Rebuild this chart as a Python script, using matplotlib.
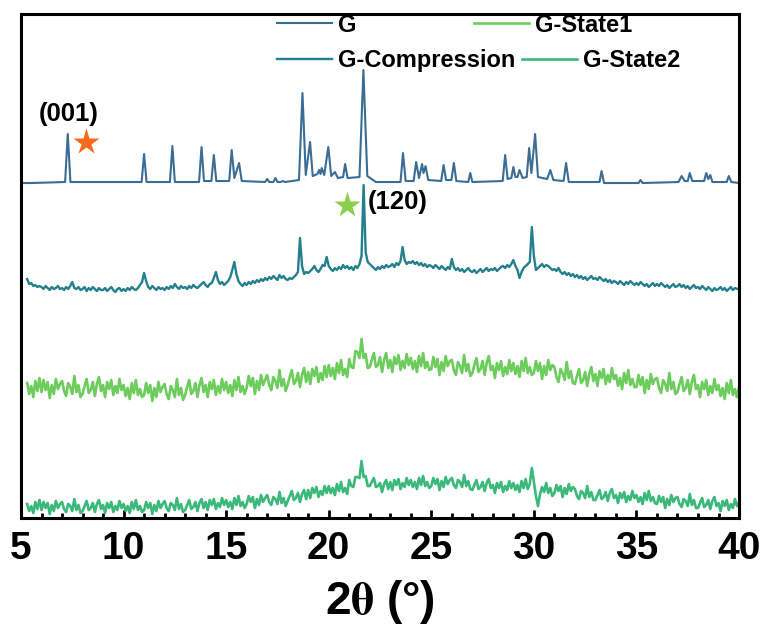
import numpy as np
import matplotlib
matplotlib.use("Agg")
import matplotlib.pyplot as plt
from matplotlib.ticker import MultipleLocator

plt.rcParams['font.family'] = ['Liberation Sans', 'DejaVu Sans']
plt.rcParams['font.weight'] = 'bold'
plt.rcParams['mathtext.fontset'] = 'stix'

# G: smooth pattern, vertices (2theta, intensity)
g_x = [5.0, 5.5, 7.15, 7.28, 7.41, 10.88, 11.0, 11.12, 12.26, 12.38, 12.5,
       13.68, 13.8, 13.92, 14.28, 14.4, 14.52, 15.15, 15.27, 15.4, 15.63, 15.76,
       16.9, 17.0, 17.1, 17.3, 17.4, 17.5, 17.66, 17.76, 17.86, 18.55, 18.72,
       18.88, 19.09, 19.22, 19.45, 19.53, 19.6, 19.66, 19.78, 19.98, 20.12, 20.3,
       20.45, 20.7, 20.8, 20.92, 21.5, 21.69, 21.88, 22.3, 23.5, 23.62, 23.75,
       24.14, 24.26, 24.4, 24.55, 24.62, 24.72, 24.85, 25.48, 25.6, 25.72, 25.98,
       26.1, 26.22, 26.8, 26.9, 27.0, 28.48, 28.6, 28.72, 28.9, 29.0, 29.1, 29.2,
       29.3, 29.45, 29.65, 29.77, 29.88, 30.06, 30.2, 30.65, 30.8, 30.95, 31.45,
       31.57, 31.7, 33.2, 33.3, 33.42, 35.1, 35.2, 35.3, 37.05, 37.2, 37.35, 37.5,
       37.6, 37.72, 38.3, 38.4, 38.5, 38.6, 38.7, 39.4, 39.5, 39.62, 40.0]
g_y = [335, 335, 336, 384, 336, 336, 364, 336, 336, 372, 336,
       336, 371, 337, 337, 363, 337, 337, 368, 340, 355, 337,
       336, 339, 336, 336, 340, 336, 336, 337, 336, 338, 425,
       343, 376, 342, 344, 348, 344, 350, 343, 371, 342, 346,
       340, 341, 354, 340, 341, 448, 342, 336, 336, 365, 337,
       337, 356, 340, 354, 345, 352, 338, 337, 353, 338, 338,
       355, 337, 336, 345, 336, 337, 363, 339, 340, 351, 341, 341,
       348, 340, 341, 370, 345, 384, 341, 339, 348, 338, 337,
       355, 336, 336, 347, 335, 335, 338, 335, 336, 342, 337, 337,
       345, 337, 337, 345, 339, 343, 336, 336, 342, 336, 335]

# noisy patterns, sampled every 0.1 deg from 5.3 to 40.0
scan_x = np.arange(53, 401) / 10

comp_y = [239, 234, 235, 232, 233, 231, 232,
          231, 229, 232, 230, 228, 231, 229, 230, 232, 229,
          230, 228, 231, 229, 232, 236, 230, 229, 231, 228,
          229, 231, 227, 230, 228, 231, 229, 227, 230, 228,
          228, 230, 227, 229, 231, 228, 226, 229, 230, 227,
          229, 227, 230, 228, 231, 229, 228, 230, 233, 236,
          245, 237, 231, 229, 232, 230, 228, 231, 229, 230,
          228, 231, 229, 232, 230, 234, 231, 229, 232, 230,
          231, 229, 232, 230, 233, 231, 230, 232, 234, 236,
          233, 231, 234, 235, 240, 246, 238, 234, 236, 233,
          235, 237, 241, 248, 256, 244, 237, 234, 232, 235,
          233, 236, 234, 237, 235, 238, 236, 239, 237, 240,
          238, 241, 239, 242, 240, 238, 243, 240, 242, 239,
          238, 240, 239, 241, 243, 246, 280, 252, 244, 246,
          245, 247, 249, 252, 248, 246, 249, 253, 252, 261,
          252, 249, 247, 250, 248, 251, 249, 253, 250, 252,
          249, 251, 248, 252, 250, 254, 262, 333, 266, 256,
          254, 252, 250, 248, 251, 249, 252, 250, 253, 251,
          252, 254, 251, 255, 253, 257, 271, 258, 254, 256,
          255, 257, 254, 256, 253, 255, 252, 254, 251, 253,
          252, 250, 253, 251, 249, 252, 250, 248, 251, 249,
          259, 251, 248, 250, 247, 249, 246, 248, 250, 247,
          246, 248, 245, 247, 249, 246, 248, 250, 247, 249,
          248, 250, 247, 249, 251, 252, 250, 253, 251, 254,
          258, 252, 248, 240, 246, 250, 252, 254, 256, 291,
          262, 248, 250, 252, 254, 251, 253, 252, 250, 248,
          249, 247, 250, 246, 244, 246, 243, 245, 242, 244,
          241, 243, 240, 242, 239, 241, 238, 240, 242, 239,
          240, 238, 241, 239, 237, 239, 236, 238, 235, 237,
          236, 234, 237, 235, 233, 236, 234, 237, 235, 233,
          235, 233, 236, 234, 232, 234, 231, 233, 235, 232,
          234, 232, 235, 233, 231, 233, 230, 232, 234, 231,
          232, 234, 231, 233, 230, 232, 229, 231, 233, 230,
          231, 229, 232, 230, 228, 231, 229, 227, 230, 228,
          229, 231, 228, 230, 227, 229, 231, 228, 230, 229,
          230]

state1_y = [135, 124, 132, 121, 137, 127, 140,
            126, 138, 128, 136, 120, 133, 124, 139, 129, 134,
            137, 127, 122, 135, 131, 124, 142, 126, 133, 121,
            124, 132, 139, 125, 128, 136, 122, 134, 141, 127,
            133, 121, 136, 129, 138, 123, 132, 125, 139, 128,
            133, 122, 130, 119, 135, 125, 138, 123, 129, 121,
            123, 135, 125, 133, 117, 130, 121, 136, 126, 131,
            134, 124, 119, 132, 128, 121, 139, 123, 130, 118,
            123, 131, 138, 124, 127, 135, 121, 133, 140, 126,
            133, 121, 136, 129, 138, 123, 132, 125, 139, 128,
            136, 125, 133, 122, 138, 128, 141, 126, 132, 124,
            130, 142, 132, 140, 124, 137, 128, 143, 133, 138,
            143, 133, 128, 141, 137, 130, 148, 132, 139, 127,
            133, 141, 148, 134, 137, 145, 131, 143, 150, 136,
            146, 134, 149, 142, 151, 136, 145, 138, 152, 141,
            153, 142, 150, 139, 155, 145, 158, 143, 149, 141,
            159, 151, 150, 167, 166, 160, 179, 160, 164, 150,
            151, 158, 165, 151, 153, 161, 146, 158, 165, 150,
            158, 146, 161, 154, 163, 148, 157, 150, 164, 153,
            160, 149, 157, 146, 162, 152, 165, 150, 156, 148,
            149, 161, 151, 159, 143, 156, 147, 162, 152, 157,
            158, 148, 143, 156, 152, 145, 163, 147, 154, 142,
            145, 153, 160, 146, 149, 157, 143, 155, 162, 148,
            152, 140, 155, 148, 157, 142, 151, 144, 158, 147,
            155, 144, 152, 141, 157, 147, 160, 145, 151, 143,
            145, 157, 147, 155, 139, 152, 143, 158, 148, 153,
            151, 141, 136, 149, 145, 138, 156, 140, 147, 135,
            134, 142, 149, 135, 138, 146, 132, 144, 151, 137,
            144, 132, 147, 140, 149, 134, 143, 136, 150, 139,
            143, 132, 140, 129, 145, 135, 148, 133, 139, 131,
            131, 143, 133, 141, 125, 138, 129, 144, 134, 139,
            140, 130, 125, 138, 134, 127, 145, 129, 136, 124,
            126, 134, 141, 127, 130, 138, 124, 136, 143, 129,
            133, 121, 136, 129, 138, 123, 132, 125, 139, 128,
            133, 122, 130, 119, 135, 125, 138, 123, 129, 121,
            131]

state2_y = [14, 7, 12, 5, 16, 9, 18,
            8, 16, 10, 15, 4, 13, 7, 17, 10, 14,
            16, 9, 6, 14, 12, 7, 19, 8, 13, 5,
            7, 12, 17, 8, 10, 15, 6, 14, 18, 9,
            13, 5, 15, 10, 16, 6, 12, 8, 17, 10,
            14, 7, 12, 5, 16, 9, 18, 8, 12, 6,
            8, 16, 10, 15, 4, 13, 7, 17, 10, 14,
            17, 10, 7, 15, 13, 8, 20, 9, 14, 6,
            8, 13, 18, 9, 11, 16, 7, 15, 19, 10,
            16, 8, 18, 13, 19, 9, 15, 11, 20, 13,
            18, 11, 16, 9, 20, 13, 22, 12, 16, 10,
            14, 22, 16, 21, 10, 19, 13, 23, 16, 20,
            23, 16, 13, 21, 19, 14, 26, 15, 20, 12,
            17, 22, 27, 18, 20, 25, 16, 24, 28, 19,
            28, 20, 30, 25, 31, 21, 27, 23, 32, 25,
            32, 25, 30, 23, 34, 27, 36, 26, 30, 24,
            38, 32, 31, 41, 41, 40, 57, 41, 42, 32,
            32, 36, 40, 31, 32, 35, 26, 34, 38, 29,
            36, 28, 38, 33, 39, 29, 35, 31, 40, 33,
            38, 31, 36, 29, 40, 33, 42, 32, 36, 30,
            32, 40, 34, 39, 28, 37, 31, 41, 34, 38,
            40, 33, 30, 38, 36, 31, 43, 32, 37, 29,
            28, 33, 38, 29, 31, 36, 27, 35, 39, 30,
            33, 25, 35, 30, 36, 26, 32, 28, 37, 30,
            35, 28, 33, 26, 37, 30, 39, 29, 34, 50,
            36, 22, 12, 24, 31, 26, 35, 25, 30, 22,
            25, 33, 27, 32, 21, 30, 24, 34, 27, 31,
            29, 22, 19, 27, 25, 20, 32, 21, 26, 18,
            18, 23, 28, 19, 21, 26, 17, 25, 29, 20,
            23, 15, 25, 20, 26, 16, 22, 18, 27, 20,
            23, 16, 21, 14, 25, 18, 27, 17, 21, 15,
            14, 22, 16, 21, 10, 19, 13, 23, 16, 20,
            21, 14, 11, 19, 17, 12, 24, 13, 18, 10,
            10, 15, 20, 11, 13, 18, 9, 17, 21, 12,
            15, 7, 17, 12, 18, 8, 14, 10, 19, 12,
            16]

labels = ["G", "G-Compression", "G-State1", "G-State2"]
colors = ["#3b6c94", "#23808c", "#6ccc5c", "#3ab97b"]

fig = plt.figure(figsize=(7.66, 6.26), dpi=100)
ax = fig.add_axes([0.0274, 0.1725, 0.9374, 0.8051])

l_g, = ax.plot(g_x, g_y, color=colors[0], lw=1.5)
l_c, = ax.plot(scan_x, comp_y, color=colors[1], lw=1.7)
l_s1, = ax.plot(scan_x, state1_y, color=colors[2], lw=1.9)
l_s2, = ax.plot(scan_x, state2_y, color=colors[3], lw=1.9)

# peak marks
ax.plot([8.17], [376], marker='*', ms=20, color="#fa6a1e", mec='none')
ax.plot([20.9], [313], marker='*', ms=20, color="#8dcf4a", mec='none')
ax.text(7.34, 404, "(001)", fontsize=18.5, fontweight='bold', ha='center', va='center')
ax.text(21.92, 316, "(120)", fontsize=18.5, fontweight='bold', ha='left', va='center')

ax.set_xlim(5, 40)
ax.set_ylim(0, 504)
ax.set_yticks([])
ax.xaxis.set_major_locator(MultipleLocator(5))
ax.xaxis.set_minor_locator(MultipleLocator(1))
ax.tick_params(axis='x', which='major', direction='in', length=6, width=2,
               labelsize=28, pad=9)
ax.tick_params(axis='x', which='minor', direction='in', length=3.5, width=2)
for lab in ax.get_xticklabels():
    lab.set_fontweight('bold')
for s in ax.spines.values():
    s.set_linewidth(2.2)

ax.set_xlabel("2$\\mathrm{\\theta}$ (°)", fontsize=33, fontweight='bold', labelpad=8)

leg1 = ax.legend([l_g, l_s1], ["G", "G-State1"], ncol=2, loc='center left',
                 bbox_to_anchor=(0.3565, 0.978), frameon=False, borderpad=0,
                 borderaxespad=0, handlelength=2.33, handletextpad=0.25,
                 columnspacing=5.0, prop={'size': 17, 'weight': 'bold'})
ax.add_artist(leg1)
ax.legend([l_c, l_s2], ["G-Compression", "G-State2"], ncol=2, loc='center left',
          bbox_to_anchor=(0.3565, 0.907), frameon=False, borderpad=0,
          borderaxespad=0, handlelength=2.33, handletextpad=0.25,
          columnspacing=0.3, prop={'size': 17, 'weight': 'bold'})

fig.savefig("out.png", dpi=100)
